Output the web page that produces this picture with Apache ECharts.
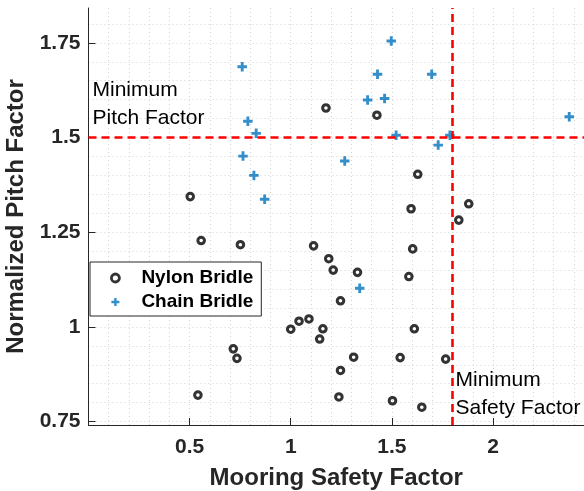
<!DOCTYPE html>
<html>
<head>
<meta charset="utf-8">
<script src="https://cdn.jsdelivr.net/npm/echarts@6/dist/echarts.min.js"></script>
<style>
html,body{margin:0;padding:0;background:#fff;}
#chart{width:584px;height:491px;}
</style>
</head>
<body>
<div id="chart"></div>
<script>
// ---- data ----
const nylonX = [1.174,1.426,0.503,0.557,0.751,1.113,1.188,1.210,1.330,1.246,1.628,1.595,1.880,1.831,1.603,1.584,0.541,0.716,0.734,1.000,1.041,1.090,1.159,1.143,1.311,1.246,1.238,1.611,1.541,1.766,1.503,1.648];
const nylonY = [1.578,1.559,1.344,1.228,1.217,1.214,1.180,1.150,1.144,1.069,1.403,1.312,1.325,1.282,1.206,1.133,0.820,0.942,0.917,0.994,1.015,1.021,0.995,0.968,0.920,0.885,0.815,0.995,0.919,0.915,0.805,0.788];
const chainX = [0.760,0.788,0.829,0.764,0.818,0.871,1.267,1.341,1.380,1.429,1.464,1.497,1.521,1.697,1.729,1.787,2.377];
const chainY = [1.687,1.543,1.511,1.451,1.400,1.337,1.438,1.102,1.599,1.667,1.603,1.755,1.506,1.667,1.480,1.506,1.555];
const seriesNames = ['Nylon Bridle','Chain Bridle'];
const xTicks = [0.5, 1, 1.5, 2];
const yTicks = [0.75, 1, 1.25, 1.5, 1.75];
const minSafety = [1.8];
const minPitch = [1.5];
const xTitle = 'Mooring Safety Factor';
const yTitle = 'Normalized Pitch Factor';
const pitchNote = 'Minimum\nPitch Factor';
const safetyNote = 'Minimum\nSafety Factor';

// grid line positions (minor grid)
const xGridVals = []; for (let i = 1; i <= 24; i++) xGridVals.push(+(i*0.1).toFixed(2));
const yGridVals = []; for (let i = 15; i <= 36; i++) yGridVals.push(+(i*0.05).toFixed(2));

const XMIN = 0, XMAX = 2.45, YMIN = 0.741, YMAX = 1.842;
const FONT = '"Liberation Sans", Arial, Helvetica, sans-serif';
const TXT = '#262626';
const BLUE = '#0072BD';
const plusPath = 'path://M3.5,0 H6.5 V3.5 H10 V6.5 H6.5 V10 H3.5 V6.5 H0 V3.5 H3.5 Z';

const chart = echarts.init(document.getElementById('chart'), null, {renderer:'canvas'});
const gridLine = {show:true, lineStyle:{color:'#d2d2d2', type:[1,3], width:1}};
const option = {
  backgroundColor:'#fff',
  animation:false,
  textStyle:{fontFamily:FONT},
  grid:{left:88.5, right:0, top:8, bottom:66, containLabel:false, outerBoundsMode:'none'},
  xAxis:[
    {type:'value', min:XMIN, max:XMAX, position:'bottom',
     axisLine:{show:true, onZero:false, lineStyle:{color:TXT, width:1}},
     axisTick:{show:true, inside:true, length:7, customValues:xTicks, lineStyle:{color:TXT}},
     axisLabel:{show:true, customValues:xTicks, margin:12, color:TXT, fontSize:21, fontWeight:'bold', fontFamily:FONT},
     splitLine:{show:false},
     name:xTitle, nameLocation:'middle', nameGap:41,
     nameTextStyle:{color:TXT, fontSize:24, fontWeight:'bold', fontFamily:FONT}},
    {type:'value', min:XMIN, max:XMAX, position:'bottom',
     axisLine:{show:false}, axisTick:{show:false, customValues:xGridVals},
     axisLabel:{show:false}, splitLine:gridLine}
  ],
  yAxis:[
    {type:'value', min:YMIN, max:YMAX, position:'left',
     axisLine:{show:true, onZero:false, lineStyle:{color:TXT, width:1}},
     axisTick:{show:true, inside:true, length:7, customValues:yTicks, lineStyle:{color:TXT}},
     axisLabel:{show:true, customValues:yTicks, margin:8, color:TXT, fontSize:21, fontWeight:'bold', fontFamily:FONT},
     splitLine:{show:false},
     name:yTitle, nameLocation:'middle', nameGap:53, nameRotate:90,
     nameTextStyle:{color:TXT, fontSize:24, fontWeight:'bold', fontFamily:FONT}},
    {type:'value', min:YMIN, max:YMAX, position:'left',
     axisLine:{show:false}, axisTick:{show:false, customValues:yGridVals},
     axisLabel:{show:false}, splitLine:gridLine}
  ],
  legend:{
    orient:'vertical', left:90, top:262,
    padding:[6,8,4,20], itemGap:4, itemWidth:42, itemHeight:8,
    backgroundColor:'#fff', borderColor:TXT, borderWidth:1,
    textStyle:{color:'#000', fontSize:19, fontWeight:'bold', fontFamily:FONT, lineHeight:20},
    data:[
      {name:seriesNames[0], icon:'circle', itemStyle:{color:'rgba(0,0,0,0)', borderColor:'#000', borderWidth:2.8}},
      {name:seriesNames[1], icon:plusPath, itemStyle:{color:BLUE, borderWidth:0}}
    ]
  },
  series:[
    {name:seriesNames[0], type:'scatter', xAxisIndex:0, yAxisIndex:0,
     data:nylonX.map((x,i)=>[x, nylonY[i]]),
     symbol:'circle', symbolSize:6.6,
     itemStyle:{color:'rgba(0,0,0,0)', borderColor:'#000', borderWidth:3}, z:3},
    {name:seriesNames[1], type:'scatter', xAxisIndex:0, yAxisIndex:0,
     data:chainX.map((x,i)=>[x, chainY[i]]),
     symbol:plusPath, symbolSize:9.5,
     itemStyle:{color:BLUE, borderWidth:0}, z:3,
     markLine:{silent:true, symbol:['none','none'], label:{show:false}, animation:false,
       lineStyle:{color:'#FF0000', type:[8,5], width:2.6},
       data:[...minSafety.map(v=>({xAxis:v})), ...minPitch.map(v=>({yAxis:v}))]}}
  ],
  graphic:[
    {type:'text', left:92.5, top:76, z:10, style:{text:pitchNote, fill:'#000', font:'21px '+FONT, lineHeight:28}},
    {type:'text', left:455.5, top:366, z:10, style:{text:safetyNote, fill:'#000', font:'21px '+FONT, lineHeight:28}}
  ]
};
chart.setOption(option);
</script>
</body>
</html>
